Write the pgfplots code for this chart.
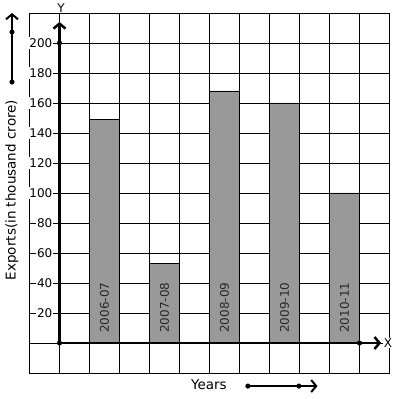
\documentclass[border=0pt]{standalone}
\usepackage{pgfplots}
\pgfplotsset{compat=1.18}
\usepackage{fontspec}
\setmainfont{DejaVu Sans}
\usetikzlibrary{arrows.meta}
\definecolor{bargray}{RGB}{153,153,153}
\definecolor{labgray}{RGB}{40,40,40}
\begin{document}
\begin{tikzpicture}[font=\fontsize{12}{14}\selectfont]
\begin{axis}[name=ax, x=30pt, y=1.5pt, xmin=-1, xmax=11, ymin=-20, ymax=220,
  xtick={-1,...,11}, ytick={-20,0,...,220}, xticklabels={}, yticklabels={},
  major tick length=0pt,
  grid=major, grid style={black, line width=0.9pt},
  axis line style={black, line width=0.9pt},
  clip=false]
% bars
\addplot[ybar, bar width=1, fill=bargray, draw=black, line width=0.9pt]
  coordinates {(1.5,149) (3.5,53) (5.5,168) (7.5,160) (9.5,100)};
% axes
\addplot[black, mark=none, line width=2.5pt, -{Straight Barb[length=5pt,width=12pt]}]
  coordinates {(0,0) (0,214)};
\addplot[black, mark=none, line width=2.5pt, -{Straight Barb[length=5pt,width=12pt]}]
  coordinates {(0,0) (10.72,0)};
% decorative arrows
\addplot[black, mark=none, line width=2pt, -{Straight Barb[length=5pt,width=12pt]}]
  coordinates {(-1.583,174) (-1.583,220)};
\addplot[black, mark=none, line width=2pt, -{Straight Barb[length=5pt,width=12pt]}]
  coordinates {(6.28,-28.7) (8.6,-28.7)};
% dots
\addplot[black, only marks, mark=*, mark size=2.3pt]
  coordinates {(0,0) (0,200) (10,0) (-1.583,207.3) (-1.583,174) (6.28,-28.7) (7.98,-28.7)};
% tick labels
\foreach \v in {20,40,...,200}{
  \edef\tmp{\noexpand\node[anchor=east, fill=white, inner sep=1pt] at (axis cs:-0.2,\v) {\v};}\tmp
}
% bar labels
\node[rotate=90, anchor=west, inner sep=0pt, text=labgray] at (axis cs:1.5,6.7) {2006-07};
\node[rotate=90, anchor=west, inner sep=0pt, text=labgray] at (axis cs:3.5,6.7) {2007-08};
\node[rotate=90, anchor=west, inner sep=0pt, text=labgray] at (axis cs:5.5,6.7) {2008-09};
\node[rotate=90, anchor=west, inner sep=0pt, text=labgray] at (axis cs:7.5,6.7) {2009-10};
\node[rotate=90, anchor=west, inner sep=0pt, text=labgray] at (axis cs:9.5,6.7) {2010-11};
% axis letters
\node[fill=white, inner sep=1pt] at (axis cs:0.05,223.5) {Y};
\node[fill=white, inner sep=1pt] at (axis cs:10.95,0) {X};
% labels
\node[font=\fontsize{13.5}{15}\selectfont] at (axis cs:4.98,-28) {Years};
\node[rotate=90, font=\fontsize{13.5}{15}\selectfont] at (axis cs:-1.583,102) {Exports(in thousand crore)};
\end{axis}
\pgfresetboundingbox
\path[use as bounding box] ([xshift=-29.5pt,yshift=-26pt]ax.south west) rectangle ([xshift=7.5pt,yshift=13pt]ax.north east);
\end{tikzpicture}
\end{document}
